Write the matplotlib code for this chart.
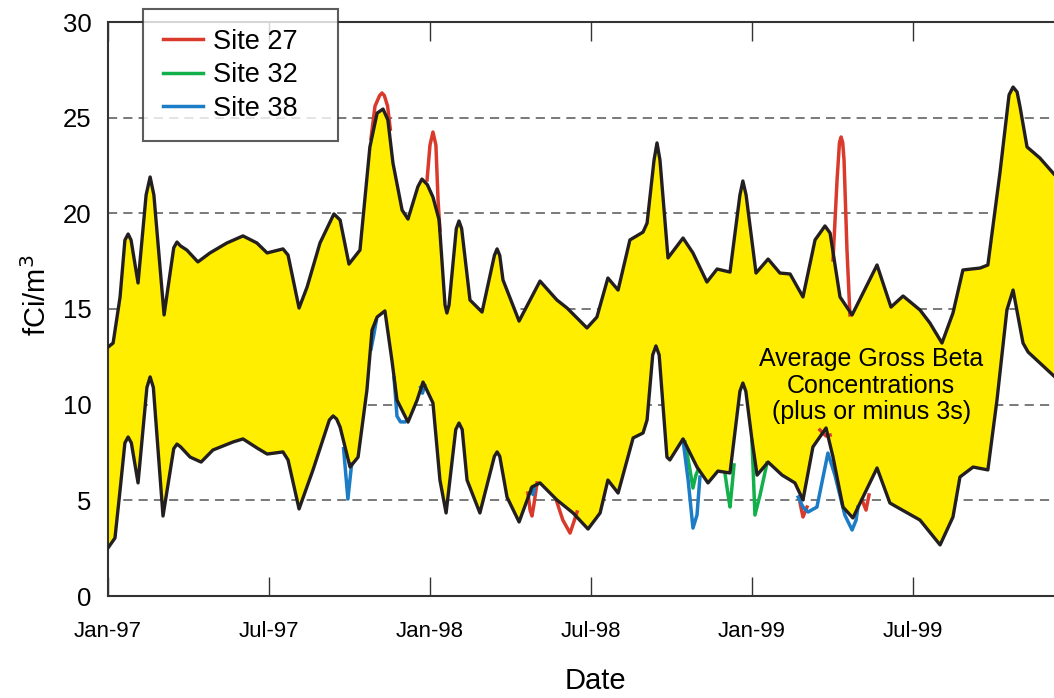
import numpy as np
import matplotlib
matplotlib.use('Agg')
import matplotlib.pyplot as plt

plt.rcParams['font.family'] = ['Liberation Sans', 'DejaVu Sans']

### DATA  (x = months after 1 Jan 1997, y = fCi/m3)
upper_x = [0.00, 0.19, 0.45, 0.63, 0.75, 0.86, 1.12, 1.42, 1.57, 1.71, 2.09, 2.45, 2.57, 2.70,
           2.94, 3.35, 3.80, 4.43, 5.03, 5.55, 5.93, 6.52, 6.71, 7.12, 7.42, 7.90, 8.42, 8.65,
           8.98, 9.39, 9.76, 10.03, 10.25, 10.43, 10.62, 10.96, 11.18, 11.55, 11.70, 11.90,
           12.11, 12.34, 12.56, 12.63, 12.71, 12.98, 13.08, 13.18, 13.49, 13.94, 14.40, 14.50,
           14.60, 14.72, 15.32, 16.10, 16.73, 17.11, 17.85, 18.22, 18.63, 19.01, 19.45, 19.94,
           20.09, 20.35, 20.46, 20.57, 20.87, 21.43, 21.80, 22.32, 22.70, 23.18, 23.55, 23.66,
           23.78, 24.15, 24.60, 25.04, 25.42, 25.90, 26.35, 26.72, 26.91, 27.28, 27.73, 28.66,
           29.18, 29.63, 30.26, 30.63, 31.08, 31.49, 31.86, 32.50, 32.79, 33.24, 33.58, 33.73,
           33.88, 33.99, 34.25, 34.73, 35.25]
upper_y = [13.01, 13.22, 15.63, 18.60, 18.92, 18.60, 16.36, 20.96, 21.90, 20.96, 14.69, 18.20,
           18.50, 18.30, 18.08, 17.46, 17.93, 18.45, 18.82, 18.45, 17.93, 18.14, 17.82, 15.05,
           16.15, 18.45, 19.97, 19.65, 17.35, 18.08, 23.47, 25.24, 25.45, 24.88, 22.63, 20.17,
           19.70, 21.40, 21.79, 21.50, 20.85, 19.65, 15.21, 14.79, 15.21, 19.20, 19.60, 19.20,
           15.47, 14.84, 17.80, 18.14, 17.80, 16.52, 14.37, 16.46, 15.47, 15.05, 14.01, 14.58,
           16.62, 15.99, 18.61, 19.02, 19.49, 22.79, 23.68, 22.79, 17.67, 18.71, 17.93, 16.41,
           17.09, 16.93, 20.96, 21.69, 20.96, 16.88, 17.61, 16.88, 16.83, 15.63, 18.61, 19.34,
           18.97, 15.63, 14.69, 17.30, 15.10, 15.68, 14.95, 14.27, 13.22, 14.79, 17.04, 17.14,
           17.30, 22.11, 26.19, 26.60, 26.34, 25.56, 23.47, 22.89, 22.06]

lower_x = [0.00, 0.26, 0.45, 0.63, 0.75, 0.87, 1.12, 1.45, 1.57, 1.69, 2.05, 2.45, 2.57, 2.70,
           3.06, 3.47, 3.91, 4.66, 5.03, 5.55, 5.93, 6.52, 6.71, 7.12, 7.64, 8.25, 8.39, 8.52,
           8.65, 9.02, 9.32, 9.65, 9.84, 10.03, 10.32, 10.58, 10.77, 11.18, 11.52, 11.74, 12.11,
           12.37, 12.60, 12.96, 13.08, 13.20, 13.38, 13.86, 14.40, 14.50, 14.60, 14.87, 15.32,
           15.80, 16.10, 16.73, 17.33, 17.89, 18.34, 18.63, 19.01, 19.57, 19.94, 20.09, 20.30,
           20.42, 20.54, 20.83, 20.94, 21.43, 21.95, 22.36, 22.73, 23.18, 23.55, 23.66, 23.77,
           24.00, 24.19, 24.60, 25.12, 25.60, 25.90, 26.27, 26.76, 27.02, 27.39, 27.76, 28.66,
           29.14, 29.40, 30.26, 31.01, 31.49, 31.75, 32.24, 32.79, 33.13, 33.50, 33.73, 34.10,
           34.29, 35.25]
lower_y = [2.51, 3.03, 5.54, 8.00, 8.31, 8.00, 5.91, 10.90, 11.45, 10.90, 4.18, 7.70, 7.94, 7.80,
           7.26, 7.00, 7.63, 8.05, 8.21, 7.74, 7.42, 7.53, 7.11, 4.55, 6.59, 9.20, 9.41, 9.25,
           8.83, 6.74, 7.26, 10.77, 13.90, 14.58, 14.90, 12.33, 10.24, 9.09, 10.24, 11.18, 10.09,
           6.06, 4.34, 8.70, 9.04, 8.70, 6.06, 4.34, 7.30, 7.53, 7.30, 5.17, 3.87, 5.70, 5.91,
           5.02, 4.34, 3.50, 4.34, 6.06, 5.38, 8.26, 8.52, 9.20, 12.60, 13.07, 12.60, 7.26, 7.11,
           8.21, 6.74, 5.91, 6.53, 6.43, 10.70, 11.13, 10.70, 8.15, 6.32, 7.00, 6.32, 5.91, 5.02,
           7.79, 8.78, 7.26, 4.65, 4.08, 6.69, 4.86, 4.65, 3.97, 2.67, 4.13, 6.22, 6.74, 6.59,
           10.24, 14.95, 15.99, 13.22, 12.75, 11.50]

# individual sites, only where they leave the band (nan = break)
nan = np.nan
site27_x = [9.80, 9.95, 10.12, 10.21, 10.30, 10.42, 10.52, nan,
            11.89, 12.00, 12.11, 12.22, 12.30, 12.37, nan,
            27.02, 27.17, 27.26, 27.32, 27.38, 27.43, 27.54, 27.65, nan,
            15.65, 15.73, 15.80, 15.87, 15.99, nan,
            16.73, 16.95, 17.22, 17.41, 17.48, nan,
            25.79, 25.90, 26.05, nan,
            26.53, 26.76, 26.91, nan,
            28.10, 28.25, 28.36]
site27_y = [23.9, 25.6, 26.15, 26.29, 26.15, 25.6, 24.4, nan,
            21.74, 23.57, 24.25, 23.57, 20.70, 19.13, nan,
            17.56, 21.74, 23.70, 23.99, 23.70, 22.79, 18.08, 14.69, nan,
            5.38, 4.49, 4.18, 4.76, 5.91, nan,
            4.91, 3.97, 3.29, 4.08, 4.39, nan,
            4.86, 4.13, 4.65, nan,
            8.68, 8.36, 8.41, nan,
            5.02, 4.49, 5.28]
site32_x = [21.50, 21.69, 21.80, 21.91, 21.99, nan,
            22.99, 23.11, 23.18, 23.26, 23.33, nan,
            24.00, 24.11, 24.30, 24.56]
site32_y = [8.05, 6.59, 5.64, 6.32, 6.59, nan,
            6.43, 5.28, 4.65, 5.80, 6.85, nan,
            8.10, 4.23, 5.28, 6.95]
site38_x = [8.78, 8.94, 9.08, nan,
            9.80, 9.90, 10.00, nan,
            10.66, 10.77, 10.90, 11.05, nan,
            11.65, 11.72, 11.80, nan,
            15.78, 15.84, 15.90, nan,
            21.43, 21.62, 21.80, 21.95, 22.06, nan,
            25.72, 25.90, 26.09, 26.42, 26.83, 27.09, 27.46, 27.73, 27.88, 27.95]
site38_y = [7.7, 5.07, 6.9, nan,
            12.9, 13.6, 14.4, nan,
            11.4, 9.4, 9.1, 9.1, nan,
            10.9, 10.6, 11.0, nan,
            5.6, 5.3, 5.7, nan,
            8.15, 6.06, 3.55, 4.23, 6.22, nan,
            5.17, 4.65, 4.39, 4.65, 7.47, 6.32, 4.23, 3.45, 3.97, 4.65]

tick_pos = [0, 6, 12, 18, 24, 30]
tick_lab = ['Jan-97', 'Jul-97', 'Jan-98', 'Jul-98', 'Jan-99', 'Jul-99']

### PLOT
fig = plt.figure(figsize=(10.54, 6.98), dpi=100)
ax = fig.add_axes([108/1054, 102/698, 946/1054, 574/698])

ax.set_xlim(0, 35.255)
ax.set_ylim(0, 30)

# dashed grid behind everything
for g in [5, 10, 15, 20, 25]:
    ax.axhline(g, color='#555555', lw=1.1, ls=(0, (6, 4)), zorder=0)

# yellow band
ax.fill(np.concatenate([upper_x, lower_x[::-1]]), np.concatenate([upper_y, lower_y[::-1]]),
        color='#FFEE00', lw=0, zorder=1)

ax.plot(site27_x, site27_y, color='#D93A2B', lw=2.5, zorder=2, label='Site 27')
ax.plot(site32_x, site32_y, color='#12B04B', lw=2.5, zorder=2, label='Site 32')
ax.plot(site38_x, site38_y, color='#1C7CC6', lw=2.5, zorder=2, label='Site 38')

ax.plot(upper_x, upper_y, color='#231F20', lw=2.4, zorder=3, solid_joinstyle='round')
ax.plot(lower_x, lower_y, color='#231F20', lw=2.4, zorder=3, solid_joinstyle='round')

ax.text(28.44, 11.0, 'Average Gross Beta\nConcentrations\n(plus or minus 3s)',
        ha='center', va='center', fontsize=18, linespacing=1.13, zorder=4)

ax.set_xticks(tick_pos)
ax.set_xticklabels(tick_lab, fontsize=16)
ax.set_yticks([0, 5, 10, 15, 20, 25, 30])
ax.tick_params(axis='x', direction='in', top=True, length=14, width=1, color='#333333', pad=18)
ax.tick_params(axis='y', length=0, labelsize=18.5, pad=12)

for s in ['left', 'bottom', 'top']:
    ax.spines[s].set_color('#333333')
    ax.spines[s].set_linewidth(1.5)
ax.spines['right'].set_visible(False)

ax.set_xlabel('Date', fontsize=21)
ax.xaxis.set_label_coords((595 - 108) / 946, -(667 - 596) / 574)
ax.set_ylabel('fCi/m$^3$', fontsize=21)
ax.yaxis.set_label_coords((52 - 108) / 946, (596 - 295) / 574)

leg = ax.legend(loc='upper left', bbox_to_anchor=(143/1054, 1 - 10/698, 195/1054, 0.001),
                bbox_transform=fig.transFigure, mode='expand', borderaxespad=0,
                fontsize=19.5, frameon=True, fancybox=False,
                handlelength=1.5, labelspacing=0.28, borderpad=0.72, handletextpad=0.35)
leg.get_frame().set_edgecolor('#333333')
leg.get_frame().set_linewidth(1.5)
leg.set_zorder(5)

fig.savefig('out.png', dpi=100)
